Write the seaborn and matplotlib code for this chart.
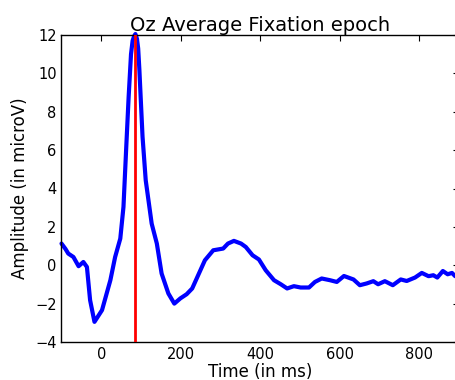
import matplotlib
matplotlib.use("Agg")
import matplotlib.pyplot as plt
import seaborn as sns
import pandas as pd

time_ms = [-100, -90, -83, -70, -57, -45, -36, -28, -17, 2, 23, 35, 48, 56, 63, 69, 75,
           79, 83, 86, 90, 93, 96, 104, 112, 127, 140, 152, 169, 184, 199, 215, 229, 244,
           261, 282, 307, 319, 334, 352, 364, 381, 397, 414, 435, 452, 468, 485, 502,
           523, 538, 555, 576, 593, 611, 635, 651, 668, 685, 697, 714, 734, 754, 769,
           790, 807, 824, 836, 846, 860, 872, 883, 891, 900]
amplitude = [1.13, 0.85, 0.61, 0.43, -0.05, 0.17, -0.09, -1.82, -2.95, -2.34, -0.78, 0.43,
             1.39, 3.04, 6.16, 8.77, 11.0, 11.7, 11.95, 12.05, 11.8, 11.3, 10.2, 6.7, 4.43,
             2.17, 1.13, -0.43, -1.47, -2.0, -1.73, -1.51, -1.21, -0.52, 0.26, 0.78, 0.87,
             1.13, 1.27, 1.13, 0.95, 0.52, 0.3, -0.26, -0.78, -0.99, -1.21, -1.09, -1.16,
             -1.16, -0.87, -0.69, -0.78, -0.87, -0.56, -0.74, -1.04, -0.95, -0.83, -0.99,
             -0.83, -1.04, -0.74, -0.82, -0.64, -0.4, -0.57, -0.52, -0.64, -0.3, -0.47,
             -0.4, -0.57, -0.5]
fixation_ms = 86
x_ticks = [0, 200, 400, 600, 800]
y_ticks = [-4, -2, 0, 2, 4, 6, 8, 10, 12]

sns.set_style("white")
plt.rcParams.update({
    "font.family": ["DejaVu Sans"],
    "text.color": "black", "axes.labelcolor": "black",
    "xtick.color": "black", "ytick.color": "black",
    "xtick.direction": "in", "ytick.direction": "in",
    "xtick.top": True, "ytick.right": True,
    "xtick.major.size": 4, "ytick.major.size": 4,
    "axes.edgecolor": "black", "axes.linewidth": 1.0,
})

df = pd.DataFrame({"time": time_ms, "amp": amplitude})

fig = plt.figure(figsize=(4.55, 3.8), dpi=100)
ax = fig.add_axes([61.5 / 455, 1 - 342 / 380, (458.75 - 61.5) / 455, (342 - 35) / 380])
sns.lineplot(data=df, x="time", y="amp", ax=ax, color="#0000ff", linewidth=3, clip_on=False)
ax.axvline(fixation_ms, color="#ff0000", linewidth=2, zorder=5)

ax.set_xlim(-100, 900)
ax.set_ylim(-4, 12)
ax.set_xticks(x_ticks)
ax.set_yticks(y_ticks)
ax.tick_params(labelsize=10.5, colors="black")
ax.set_xlabel("Time (in ms)", fontsize=12, labelpad=1, color="black")
ax.set_ylabel("Amplitude (in microV)", fontsize=12, color="black")
ax.set_title("Oz Average Fixation epoch", fontsize=14, pad=3, color="black")

fig.savefig("out.png", dpi=100)
